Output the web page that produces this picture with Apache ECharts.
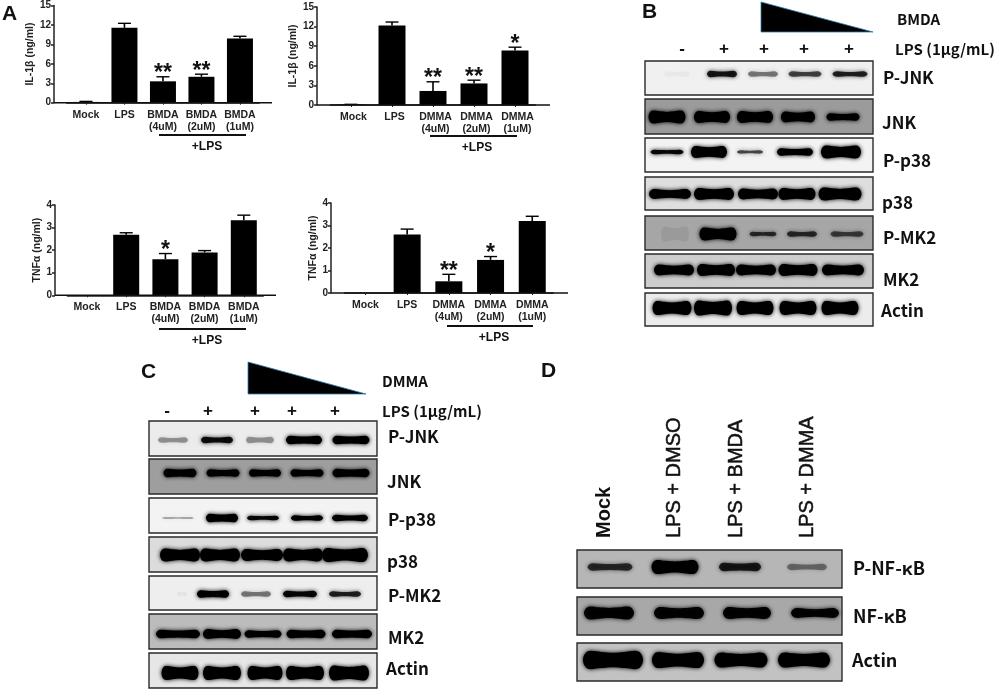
<!DOCTYPE html>
<html><head><meta charset="utf-8">
<style>html,body{margin:0;padding:0;background:#fff}#c{width:996px;height:690px;filter:blur(0.3px)}</style>
<script src="https://cdn.jsdelivr.net/npm/echarts@6/dist/echarts.min.js"></script>
</head><body><div id="c"></div>
<script>
// ---------- Panel A data ----------
const catsBMDA = ['Mock','LPS','BMDA\n(4uM)','BMDA\n(2uM)','BMDA\n(1uM)'];
const catsDMMA = ['Mock','LPS','DMMA\n(4uM)','DMMA\n(2uM)','DMMA\n(1uM)'];
const il1bBMDA = [0.12,11.55,3.3,4.0,9.9];
const il1bBMDAErr = [0.2,12.25,4.0,4.4,10.25];
const il1bBMDASig = ['','','**','**',''];
const il1bDMMA = [0.08,12.15,2.15,3.3,8.35];
const il1bDMMAErr = [0.1,12.7,3.55,3.8,8.85];
const il1bDMMASig = ['','','**','**','*'];
const tnfBMDA = [0,2.68,1.6,1.9,3.33];
const tnfBMDAErr = [0,2.77,1.85,1.98,3.55];
const tnfBMDASig = ['','','*','',''];
const tnfDMMA = [0,2.6,0.52,1.47,3.2];
const tnfDMMAErr = [0,2.84,0.83,1.62,3.41];
const tnfDMMASig = ['','','**','*',''];

// ---------- Blot data: band centre along gel, band width, band thickness, signal 0..1 ----------
const blotRowsB = ['P-JNK','JNK','P-p38','p38','P-MK2','MK2','Actin'];
const blotBgB = ['#f0f0f0','#9b9b9b','#f3f3f3','#dedede','#a6a6a6','#cdcdcd','#ececec'];
const blotTopB = [0,38,77,116,155,193,232];
const blotBottomB = [34,73,111,149,189,227,265];
const blotMidB = [13,56,91,133,173,209,247];
const blotPosB = [[32,77,118,160,205],[22,67,110,153,198],[22,64,105,150,196],[25,69,113,152,195],[30,73,118,157,202],[29,71,111,153,198],[27,68,110,153,195]];
const blotWidB = [[26,30,30,33,35],[37,36,36,34,33],[33,36,26,36,40],[42,40,40,37,43],[28,37,27,30,33],[40,38,40,39,42],[39,38,37,37,37]];
const blotThkB = [[5,6,5,5,5],[12,11,11,10,7],[4,11,3,7,12],[9,11,10,11,12],[14,12,4,5,5],[10,11,10,11,10],[13,14,13,13,13]];
const blotSigB = [[0.03,0.85,0.45,0.65,0.8],[1,1,1,1,1],[0.95,1,0.65,1,1],[1,1,1,1,1],[0.07,1,0.7,0.7,0.6],[1,1,1,1,1],[1,1,1,1,1]];

const blotRowsC = ['P-JNK','JNK','P-p38','p38','P-MK2','MK2','Actin'];
const blotBgC = ['#ececec','#9e9e9e','#f3f3f3','#dcdcdc','#eeeeee','#bcbcbc','#e6e6e6'];
const blotTopC = [0,38,77,116,155,193,232];
const blotBottomC = [35,73,112,151,189,228,267];
const blotMidC = [19,52,97,134,173,213,252];
const blotPosC = [[24,68,111,155,202],[31,74,116,158,202],[29,73,114,158,201],[31,71,113,154,196],[33,64,107,151,196],[29,73,114,157,203],[31,73,116,156,200]];
const blotWidC = [[30,32,28,36,37],[33,33,32,33,37],[32,32,32,32,36],[40,40,42,40,46],[10,32,30,34,32],[44,38,37,39,40],[37,38,35,38,40]];
const blotThkC = [[5,6,6,8,8],[8,7,7,7,8],[2,8,4,5,6],[12,12,11,12,13],[4,7,5,6,5],[8,9,7,8,8],[13,13,13,13,14]];
const blotSigC = [[0.35,0.9,0.35,1,1],[1,1,1,1,1],[0.3,1,0.95,1,1],[1,1,1,1,1],[0.04,1,0.45,0.95,0.8],[1,1,1,1,1],[1,1,1,1,1]];

const blotRowsD = ['P-NF-κB','NF-κB','Actin'];
const blotBgD = ['#b6b6b6','#a8a8a8','#c2c2c2'];
const blotTopD = [0,47,93];
const blotBottomD = [38,85,131];
const blotMidD = [17,63,110];
const blotPosD = [[33,98,163,230],[32,102,170,238],[36,101,164,227]];
const blotWidD = [[45,47,42,40],[50,50,48,48],[60,52,53,52]];
const blotThkD = [[7,13,8,6],[12,11,11,9],[17,15,14,14]];
const blotSigD = [[0.7,1,0.8,0.4],[0.95,0.95,0.95,0.95],[1,1,1,1]];

// ---------- Text ----------
const lanesD = ['Mock','LPS + DMSO','LPS + BMDA','LPS + DMMA'];
const sansB = '"Liberation Sans"';
const krB = '"Noto Sans CJK KR"';

// ---------- Layout ----------
const charts = [
 {cats:catsBMDA,val:il1bBMDA,err:il1bBMDAErr,sig:il1bBMDASig,max:15,step:3,name:'IL-1β (ng/ml)',left:66.7,top:5.5,w:192.5,h:97.2,axisX:54,endX:272,bw:26,gap:14,lineFrom:159,lineTo:246,lineY:135,lpsX:207,lpsY:147,dx:0},
 {cats:catsDMMA,val:il1bDMMA,err:il1bDMMAErr,sig:il1bDMMASig,max:15,step:3,name:'IL-1β (ng/ml)',left:330.5,top:7,w:205,h:98,axisX:317,endX:550,bw:27,gap:16,lineFrom:430,lineTo:517,lineY:136,lpsX:477,lpsY:148,dx:5},
 {cats:catsBMDA,val:tnfBMDA,err:tnfBMDAErr,sig:tnfBMDASig,max:4,step:1,name:'TNFα (ng/ml)',left:67.4,top:205,w:196,h:90.3,axisX:55,endX:276,bw:26,gap:10,lineFrom:159,lineTo:246,lineY:329,lpsX:207,lpsY:341,dx:0},
 {cats:catsDMMA,val:tnfDMMA,err:tnfDMMAErr,sig:tnfDMMASig,max:4,step:1,name:'TNFα (ng/ml)',left:344.6,top:203,w:208.5,h:90,axisX:331,endX:568,bw:27,gap:11,lineFrom:447,lineTo:533,lineY:326,lpsX:494,lpsY:338,dx:0}
];
const blots = [
 {rows:blotRowsB,bg:blotBgB,t:blotTopB,b:blotBottomB,m:blotMidB,p:blotPosB,w:blotWidB,k:blotThkB,s:blotSigB,left:645,top:61,width:228,height:265},
 {rows:blotRowsC,bg:blotBgC,t:blotTopC,b:blotBottomC,m:blotMidC,p:blotPosC,w:blotWidC,k:blotThkC,s:blotSigC,left:149,top:421,width:228,height:267},
 {rows:blotRowsD,bg:blotBgD,t:blotTopD,b:blotBottomD,m:blotMidD,p:blotPosD,w:blotWidD,k:blotThkD,s:blotSigD,left:577,top:550,width:265,height:131}
];
const labelPos = [
 [['P-JNK',883,78],['JNK',882,123],['P-p38',883,161],['p38',882,203],['P-MK2',883,238],['MK2',883,280],['Actin',881,311]],
 [['P-JNK',388,437],['JNK',387,482],['P-p38',388,520],['p38',387,562],['P-MK2',388,596],['MK2',388,638],['Actin',386,669]],
 [['P-NF-κB',853,568],['NF-κB',853,616],['Actin',852,660]]
];

const grid=[],xAxis=[],yAxis=[],series=[],graphic=[];

function txt(text,x,y,font){
  graphic.push({type:'text',silent:true,z:50,style:{text,x,y,font,fill:'#111',textAlign:'left',textVerticalAlign:'middle'}});
}
function line(x1,y1,x2,y2,w){
  graphic.push({type:'line',silent:true,z:40,shape:{x1,y1,x2,y2},style:{stroke:'#111',lineWidth:w}});
}

charts.forEach((c,i)=>{
  grid.push({left:c.left,top:c.top,width:c.w,height:c.h,containLabel:false});
  xAxis.push({gridIndex:i,type:'category',data:c.cats,
    axisLine:{show:true,lineStyle:{color:'#222',width:1.5}},
    axisTick:{show:true,alignWithLabel:true,length:2,lineStyle:{color:'#222',width:1}},
    axisLabel:{interval:0,margin:6,color:'#222',fontFamily:sansB,fontWeight:'bold',fontSize:10.5,lineHeight:12,padding:[0,0,0,c.dx],verticalAlign:'top'}});
  yAxis.push({gridIndex:i,type:'value',min:0,max:c.max,interval:c.step,offset:c.left-c.axisX,
    name:c.name,nameLocation:'middle',nameGap:c.gap,nameTextStyle:{color:'#222',fontFamily:sansB,fontWeight:'bold',fontSize:10.5},
    splitLine:{show:false},
    axisLine:{show:true,lineStyle:{color:'#222',width:1.5}},
    axisTick:{show:true,length:3,lineStyle:{color:'#222',width:1.5}},
    axisLabel:{margin:3,color:'#222',fontFamily:sansB,fontWeight:'bold',fontSize:10}});
  series.push({type:'bar',xAxisIndex:i,yAxisIndex:i,data:c.val,barWidth:c.bw,itemStyle:{color:'#000'},z:2,animation:false});
  series.push({type:'custom',xAxisIndex:i,yAxisIndex:i,z:3,animation:false,clip:false,
    data:c.val.map((v,j)=>[j,v,c.err[j],c.sig[j]]),
    encode:{x:0,y:[1,2]},
    renderItem(p,api){
      const j=api.value(0), lo=api.coord([j,api.value(1)]), hi=api.coord([j,api.value(2)]);
      const ch=[], s=c.sig[j];
      if(c.err[j]>0){
        ch.push({type:'line',shape:{x1:lo[0],y1:lo[1],x2:hi[0],y2:hi[1]},style:{stroke:'#000',lineWidth:1.6}});
        ch.push({type:'line',shape:{x1:hi[0]-6.5,y1:hi[1],x2:hi[0]+6.5,y2:hi[1]},style:{stroke:'#000',lineWidth:1.4}});
      }
      if(s) ch.push({type:'text',style:{text:s,x:hi[0],y:hi[1]-3,textAlign:'center',textVerticalAlign:'middle',font:'bold 23px '+sansB,fill:'#111'}});
      return {type:'group',children:ch};
    }});
  line(c.axisX,c.top+c.h,c.endX,c.top+c.h,1.5);
  line(c.lineFrom,c.lineY,c.lineTo,c.lineY,2);
  graphic.push({type:'text',silent:true,z:50,style:{text:'+LPS',x:c.lpsX,y:c.lpsY,font:'bold 12px '+sansB,fill:'#111',textAlign:'center',textVerticalAlign:'middle'}});
});

blots.forEach((g,n)=>{
  const gi=charts.length+n;
  grid.push({left:g.left,top:g.top,width:g.width,height:g.height});
  xAxis.push({gridIndex:gi,type:'value',min:0,max:g.width,show:false});
  yAxis.push({gridIndex:gi,type:'value',min:0,max:g.height,inverse:true,show:false});
  series.push({type:'custom',xAxisIndex:gi,yAxisIndex:gi,z:4,animation:false,clip:false,
    data:g.rows.map((r,i)=>[i,g.t[i],g.b[i]]),
    encode:{y:[1,2]},
    renderItem(p,api){
      const i=api.value(0);
      const a=api.coord([0,api.value(1)]), b=api.coord([g.width,api.value(2)]);
      return {type:'rect',shape:{x:a[0],y:a[1],width:b[0]-a[0],height:b[1]-a[1]},
        style:{fill:g.bg[i],stroke:'#2a2a2a',lineWidth:1.4}};
    }});
  const bands=[];
  g.rows.forEach((r,i)=>g.p[i].forEach((x,j)=>bands.push([x,g.m[i],g.w[i][j],g.k[i][j],g.s[i][j]])));
  series.push({type:'custom',xAxisIndex:gi,yAxisIndex:gi,z:5,animation:false,clip:true,
    data:bands,encode:{x:0,y:1},
    renderItem(p,api){
      const ctr=api.coord([api.value(0),api.value(1)]);
      const sz=api.size([api.value(2),api.value(3)]);
      const hw=sz[0]/2, ht=sz[1]/2, d=api.value(4);
      const col='rgba(0,0,0,'+d+')';
      const x=ctr[0],y=ctr[1];
      const pts=[[x-hw,y],[x-hw*0.85,y-ht],[x-hw*0.4,y-ht*0.95],[x,y-ht*0.85],[x+hw*0.4,y-ht*0.95],[x+hw*0.85,y-ht],[x+hw,y],
                 [x+hw*0.85,y+ht],[x+hw*0.4,y+ht*0.95],[x,y+ht*0.85],[x-hw*0.4,y+ht*0.95],[x-hw*0.85,y+ht]];
      return {type:'polygon',shape:{points:pts,smooth:0.35},
        style:{fill:col,shadowBlur:d<0.2?14:4,shadowColor:col}};
    }});
  labelPos[n].forEach(l=>txt(l[0],l[1],l[2],(n===2?'bold 18px ':'bold 17px ')+krB));
});

// panel letters
[['A',2,14],['B',642,12],['C',141,372],['D',541,371]].forEach(l=>txt(l[0],l[1],l[2],'bold 21px '+sansB));

// dose triangles and header text
[[761,2,873,32],[248,362,366,394]].forEach(t=>graphic.push({type:'polygon',silent:true,z:40,
  shape:{points:[[t[0],t[1]],[t[0],t[3]],[t[2],t[3]]]},style:{fill:'#000',stroke:'#2f7fb0',lineWidth:0.8}}));
txt('BMDA',897,19,'bold 15px '+krB);
txt('LPS (1μg/mL)',895,49,'bold 15px '+krB);
txt('DMMA',382,381,'bold 15px '+krB);
txt('LPS (1μg/mL)',382,411,'bold 15px '+krB);
function sign(s,x,y){graphic.push({type:'text',silent:true,z:50,style:{text:s,x,y,font:'bold 17px '+sansB,fill:'#111',textAlign:'center',textVerticalAlign:'middle'}});}
['-','+','+','+','+'].forEach((s,i)=>sign(s,[682,724,764,804,849][i],49));
['-','+','+','+','+'].forEach((s,i)=>sign(s,[167,208,255,292,335][i],411));
// Panel D rotated lane labels
lanesD.forEach((s,i)=>{
  const x=[604,674,736,807][i];
  graphic.push({type:'text',silent:true,z:50,x:x,y:538,rotation:Math.PI/2,
    style:{text:s,x:0,y:0,font:(i===0?'bold ':'')+'20px '+sansB,fill:'#111',stroke:'#111',lineWidth:i===0?0:0.5,textAlign:'left',textVerticalAlign:'middle'}});
});

const chart=echarts.init(document.getElementById('c'),null,{renderer:'canvas'});
chart.setOption({animation:false,backgroundColor:'#fff',grid,xAxis,yAxis,series,graphic});
</script></body></html>
